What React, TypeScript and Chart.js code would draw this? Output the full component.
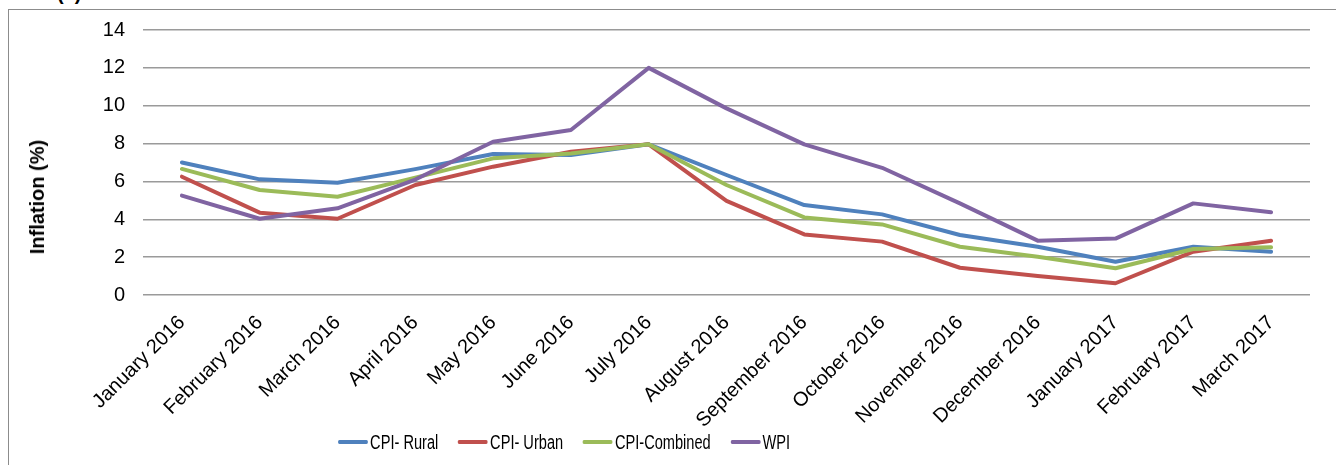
import React, { useEffect, useRef } from "react";
import { Chart, registerables } from "chart.js";

Chart.register(...registerables);

const months = [
  "January 2016", "February 2016", "March 2016", "April 2016", "May 2016", "June 2016",
  "July 2016", "August 2016", "September 2016", "October 2016", "November 2016",
  "December 2016", "January 2017", "February 2017", "March 2017",
];
const cpiRural = [7.0, 6.11, 5.93, 6.65, 7.45, 7.4, 7.96, 6.34, 4.75, 4.26, 3.17, 2.55, 1.76, 2.55, 2.29];
const cpiUrban = [6.25, 4.35, 4.03, 5.81, 6.78, 7.57, 7.96, 4.97, 3.2, 2.82, 1.44, 1.0, 0.62, 2.29, 2.87];
const cpiCombined = [6.66, 5.55, 5.19, 6.2, 7.22, 7.48, 7.96, 5.81, 4.1, 3.73, 2.55, 2.02, 1.41, 2.43, 2.52];
const wpi = [5.25, 4.03, 4.58, 6.1, 8.1, 8.72, 12.0, 9.86, 7.96, 6.72, 4.84, 2.87, 2.98, 4.84, 4.37];
const seriesNames = ["CPI- Rural", "CPI- Urban", "CPI-Combined", "WPI"];
const seriesColors = ["#4F81BD", "#C0504D", "#9BBB59", "#8064A2"];
const yTicks = [0, 2, 4, 6, 8, 10, 12, 14];
const yTitle = "Inflation (%)";
const panelLabel = "(a)";

const FONT = "'Liberation Sans', Arial, sans-serif";

export default function App() {
  const ref = useRef<HTMLCanvasElement>(null);
  useEffect(() => {
    if (!ref.current) return;
    const values = [cpiRural, cpiUrban, cpiCombined, wpi];
    const chart = new Chart(ref.current, {
      type: "line",
      data: {
        labels: months,
        datasets: values.map((d, i) => ({
          label: seriesNames[i],
          data: d,
          borderColor: seriesColors[i],
          backgroundColor: seriesColors[i],
          borderWidth: 4,
          pointRadius: 0,
          tension: 0,
          borderCapStyle: "round" as const,
          borderJoinStyle: "round" as const,
          order: 3 - i,
        })),
      },
      options: {
        animation: false,
        responsive: false,
        maintainAspectRatio: false,
        layout: { padding: { left: 0, top: 30, right: 26, bottom: 0 } },
        plugins: { legend: { display: false }, tooltip: { enabled: false } },
        scales: {
          x: {
            offset: true,
            grid: { display: false },
            border: { display: false },
            ticks: {
              autoSkip: false,
              minRotation: 45,
              maxRotation: 45,
              padding: 8,
              color: "#000",
              font: { family: FONT, size: 20 },
            },
            afterFit: (s: any) => { s.height = 170; },
          },
          y: {
            min: yTicks[0],
            max: yTicks[yTicks.length - 1],
            afterBuildTicks: (s: any) => { s.ticks = yTicks.map((v) => ({ value: v })); },
            grid: { color: "#9a9a9a", lineWidth: 1.5, drawTicks: false },
            border: { display: false },
            ticks: {
              padding: 18,
              color: "#000",
              font: { family: FONT, size: 20 },
            },
            afterFit: (s: any) => { s.width = 143; },
          },
        },
      },
    });
    return () => chart.destroy();
  }, []);

  return (
    <div style={{ position: "fixed", left: 0, top: 0, width: 1336, height: 465, overflow: "hidden", background: "#fff" }}>
      <div style={{ position: "absolute", left: 57, top: -18, font: `bold 20px ${FONT}`, color: "#000" }}>{panelLabel}</div>
      <div style={{ position: "absolute", left: 8, top: 9, width: 2000, height: 1000, borderLeft: "1.5px solid #8c8c8c", borderTop: "1.5px solid #8c8c8c" }} />
      <canvas ref={ref} width={1336} height={465} style={{ position: "absolute", left: 0, top: 0, width: 1336, height: 465 }} />
      <div style={{ position: "absolute", left: 37, top: 197, width: 0, height: 0 }}>
        <div style={{ position: "absolute", left: 0, top: 0, transform: "translate(-50%, -50%) rotate(-90deg)", whiteSpace: "nowrap", font: `bold 20px ${FONT}`, lineHeight: "24px", color: "#000" }}>{yTitle}</div>
      </div>
      <div style={{ position: "absolute", left: 338, top: 430, height: 24, display: "flex", alignItems: "center", transform: "scaleX(0.73)", transformOrigin: "left center", whiteSpace: "nowrap", font: `20px ${FONT}`, color: "#000" }}>
        {seriesNames.map((n, i) => (
          <div key={n} style={{ display: "flex", alignItems: "center", marginRight: 27 }}>
            <span style={{ display: "inline-block", width: 41, height: 4, borderRadius: 2, background: seriesColors[i], marginRight: 3 }} />
            <span style={{ lineHeight: "24px" }}>{n}</span>
          </div>
        ))}
      </div>
    </div>
  );
}
